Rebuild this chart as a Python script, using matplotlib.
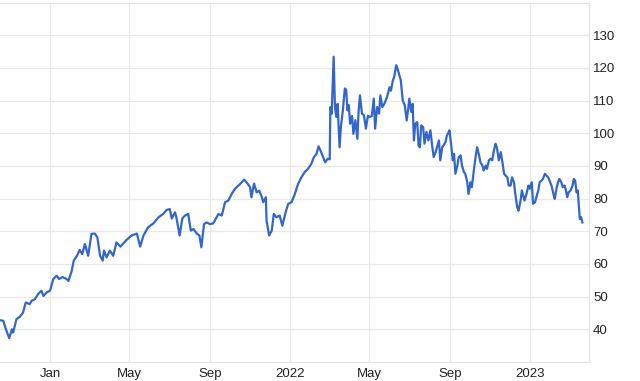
import matplotlib
matplotlib.use("Agg")
import matplotlib.pyplot as plt
import matplotlib.dates as mdates
import pandas as pd

dates = [
    "2020-10-17", "2020-10-22", "2020-10-26", "2020-10-31", "2020-11-04", "2020-11-06",
    "2020-11-11", "2020-11-16", "2020-11-21", "2020-11-25", "2020-12-01", "2020-12-04",
    "2020-12-09", "2020-12-14", "2020-12-19", "2020-12-22", "2020-12-27", "2021-01-01",
    "2021-01-06", "2021-01-11", "2021-01-15", "2021-01-20", "2021-01-26", "2021-01-29",
    "2021-02-03", "2021-02-06", "2021-02-11", "2021-02-15", "2021-02-19", "2021-02-23",
    "2021-02-28", "2021-03-05", "2021-03-10", "2021-03-14", "2021-03-18", "2021-03-22",
    "2021-03-24", "2021-03-28", "2021-04-02", "2021-04-07", "2021-04-12", "2021-04-18",
    "2021-04-27", "2021-05-05", "2021-05-13", "2021-05-18", "2021-05-23", "2021-05-30",
    "2021-06-07", "2021-06-15", "2021-06-22", "2021-06-27", "2021-07-02", "2021-07-05",
    "2021-07-10", "2021-07-12", "2021-07-17", "2021-07-21", "2021-07-25", "2021-07-30",
    "2021-08-03", "2021-08-07", "2021-08-12", "2021-08-16", "2021-08-19", "2021-08-23",
    "2021-08-27", "2021-09-01", "2021-09-06", "2021-09-14", "2021-09-19", "2021-09-24",
    "2021-09-29", "2021-10-04", "2021-10-09", "2021-10-17", "2021-10-23", "2021-10-27",
    "2021-11-01", "2021-11-03", "2021-11-07", "2021-11-11", "2021-11-15", "2021-11-19",
    "2021-11-21", "2021-11-25", "2021-11-26", "2021-11-30", "2021-12-04", "2021-12-07",
    "2021-12-11", "2021-12-16", "2021-12-20", "2021-12-25", "2021-12-29", "2022-01-03",
    "2022-01-08", "2022-01-13", "2022-01-18", "2022-01-23", "2022-01-28", "2022-02-02",
    "2022-02-06", "2022-02-10", "2022-02-13",
    "2022-02-16", "2022-02-20", "2022-02-23", "2022-02-27", "2022-03-02", "2022-03-03",
    "2022-03-05", "2022-03-08", "2022-03-10", "2022-03-12", "2022-03-14", "2022-03-17",
    "2022-03-19", "2022-03-22", "2022-03-25", "2022-03-27", "2022-03-29", "2022-03-31",
    "2022-04-02", "2022-04-05", "2022-04-07", "2022-04-10", "2022-04-13", "2022-04-15",
    "2022-04-17", "2022-04-20", "2022-04-23", "2022-04-26", "2022-04-29", "2022-05-02",
    "2022-05-05", "2022-05-08", "2022-05-10", "2022-05-13", "2022-05-16", "2022-05-18",
    "2022-05-21", "2022-05-24", "2022-05-28", "2022-06-01", "2022-06-03", "2022-06-06",
    "2022-06-08", "2022-06-11", "2022-06-13", "2022-06-16", "2022-06-18", "2022-06-21",
    "2022-06-24", "2022-06-27", "2022-06-29", "2022-07-01", "2022-07-04", "2022-07-06",
    "2022-07-08", "2022-07-10", "2022-07-13", "2022-07-15", "2022-07-17", "2022-07-19",
    "2022-07-22", "2022-07-24", "2022-07-27", "2022-07-30", "2022-08-02", "2022-08-05",
    "2022-08-07", "2022-08-10", "2022-08-12", "2022-08-15", "2022-08-17", "2022-08-20",
    "2022-08-22", "2022-08-25", "2022-08-27", "2022-08-30", "2022-08-31", "2022-09-03",
    "2022-09-05", "2022-09-07", "2022-09-09", "2022-09-12", "2022-09-14", "2022-09-17",
    "2022-09-19", "2022-09-22", "2022-09-24", "2022-09-27", "2022-09-29", "2022-10-02",
    "2022-10-04", "2022-10-07", "2022-10-10", "2022-10-12", "2022-10-15", "2022-10-17",
    "2022-10-20", "2022-10-22", "2022-10-25", "2022-10-27", "2022-10-30", "2022-11-01",
    "2022-11-04", "2022-11-06", "2022-11-09", "2022-11-11", "2022-11-14", "2022-11-17",
    "2022-11-19", "2022-11-22", "2022-11-24", "2022-11-27", "2022-11-29", "2022-12-02",
    "2022-12-04", "2022-12-07", "2022-12-09", "2022-12-12", "2022-12-14", "2022-12-17",
    "2022-12-19", "2022-12-21", "2022-12-23", "2022-12-26", "2022-12-29", "2022-12-31",
    "2023-01-03", "2023-01-05", "2023-01-08", "2023-01-10", "2023-01-13", "2023-01-15",
    "2023-01-18", "2023-01-20", "2023-01-23", "2023-01-25", "2023-01-28", "2023-01-31",
    "2023-02-02", "2023-02-05", "2023-02-07", "2023-02-10", "2023-02-12", "2023-02-14",
    "2023-02-17", "2023-02-19", "2023-02-22", "2023-02-24", "2023-02-26", "2023-02-28",
    "2023-03-03", "2023-03-06", "2023-03-08", "2023-03-10", "2023-03-12", "2023-03-14",
    "2023-03-15", "2023-03-17", "2023-03-19", "2023-03-21",
]

prices = [
    42.8, 42.6, 40.0, 37.3, 40.0, 39.0,
    43.1, 43.8, 45.1, 48.2, 47.7, 48.7,
    49.2, 50.8, 51.8, 50.2, 51.3, 51.8,
    55.4, 56.4, 55.4, 56.0, 55.4, 54.8,
    57.9, 61.0, 62.5, 64.3, 63.0, 66.1,
    62.5, 69.2, 69.3, 68.1, 62.6, 61.0,
    64.1, 62.0, 64.1, 62.5, 66.6, 65.3,
    67.3, 68.7, 69.3, 65.3, 68.7, 71.2,
    72.4, 74.3, 75.3, 76.5, 76.8, 73.9,
    75.8, 74.3, 68.7, 73.9, 74.8, 75.3,
    70.2, 70.7, 69.3, 68.7, 65.1, 72.2,
    72.7, 72.2, 72.4, 75.3, 74.8, 78.9,
    79.4, 81.4, 83.0, 84.5, 85.8, 84.9,
    83.5, 80.4, 84.6, 81.9, 82.4, 80.4,
    78.9, 80.4, 73.3, 68.7, 70.2, 75.3,
    74.3, 74.8, 71.7, 75.8, 78.4, 78.9,
    81.4, 84.5, 86.5, 88.1, 89.1, 90.6,
    92.7, 93.7, 96.0,
    94.7, 92.7, 91.1, 92.2, 92.0, 108.0,
    106.0, 123.4, 108.0, 105.0, 109.0, 95.7,
    101.9, 107.0, 113.7, 113.3, 107.0, 108.6,
    102.9, 105.3, 99.8, 104.0, 98.3, 107.0,
    111.6, 106.0, 105.5, 101.4, 105.3, 105.0,
    105.3, 110.6, 101.4, 108.0, 106.0, 111.6,
    108.0, 109.0, 111.0, 114.1, 113.0, 116.2,
    117.2, 120.8, 119.8, 117.7, 116.2, 110.0,
    108.6, 103.9, 107.0, 110.6, 106.5, 109.0,
    97.8, 102.9, 103.4, 96.3, 95.7, 102.4,
    101.9, 96.8, 100.4, 97.8, 100.9, 95.7,
    92.7, 94.2, 95.7, 97.8, 91.7, 95.7,
    96.3, 97.3, 99.3, 100.4, 100.9, 95.7,
    91.7, 93.7, 87.6, 90.1, 92.7, 93.2,
    90.1, 88.1, 87.6, 85.0, 81.4, 85.0,
    83.5, 88.6, 93.2, 95.7, 93.2, 91.1,
    90.1, 88.6, 90.1, 89.1, 91.7, 92.2,
    91.7, 94.2, 96.8, 95.7, 91.7, 94.2,
    91.7, 87.6, 87.1, 86.5, 84.0, 84.0,
    86.5, 85.0, 81.4, 77.3, 76.3, 79.4,
    82.5, 80.9, 79.4, 81.4, 84.0, 83.0,
    85.0, 78.4, 78.9, 80.4, 82.5, 85.0,
    85.5, 86.0, 87.6, 87.1, 86.5, 85.0,
    84.0, 81.4, 79.9, 83.5, 85.0, 86.0,
    85.0, 83.5, 84.0, 82.5, 80.4, 81.9,
    82.5, 84.0, 86.0, 85.5, 81.9, 82.5,
    79.4, 73.8, 74.3, 72.7,
]

tick_dates = ["2021-01-01", "2021-05-01", "2021-09-01", "2022-01-01",
              "2022-05-01", "2022-09-01", "2023-01-01"]
tick_labels = ["Jan", "May", "Sep", "2022", "May", "Sep", "2023"]
y_ticks = [40, 50, 60, 70, 80, 90, 100, 110, 120, 130]

plt.rcParams['font.family'] = ['Liberation Sans', 'DejaVu Sans']

fig = plt.figure(figsize=(6.4, 3.81), dpi=100)
ax = fig.add_axes([0.0, 0.0499, 0.9203, 0.9435])

x = pd.to_datetime(dates)
ax.plot(x, prices, color="#3366cc", lw=1.6, solid_joinstyle="round")

ax.set_xlim(pd.Timestamp("2020-10-17"), pd.Timestamp("2023-03-31"))
ax.set_ylim(30, 140)

ax.yaxis.tick_right()
ax.set_yticks(y_ticks)
ax.set_xticks(mdates.date2num(pd.to_datetime(tick_dates)))
ax.set_xticklabels(tick_labels)

ax.grid(True, color="#e8e8e8", lw=0.9)
ax.set_axisbelow(True)
ax.tick_params(axis="both", length=0, labelsize=9.5, colors="#222222")
ax.tick_params(axis="y", pad=3)
ax.tick_params(axis="x", pad=4)

ax.spines["left"].set_visible(False)
for s in ["top", "bottom", "right"]:
    ax.spines[s].set_color("#e3e3e3")
    ax.spines[s].set_linewidth(0.9)

fig.savefig("out.png", dpi=100, facecolor="white")
